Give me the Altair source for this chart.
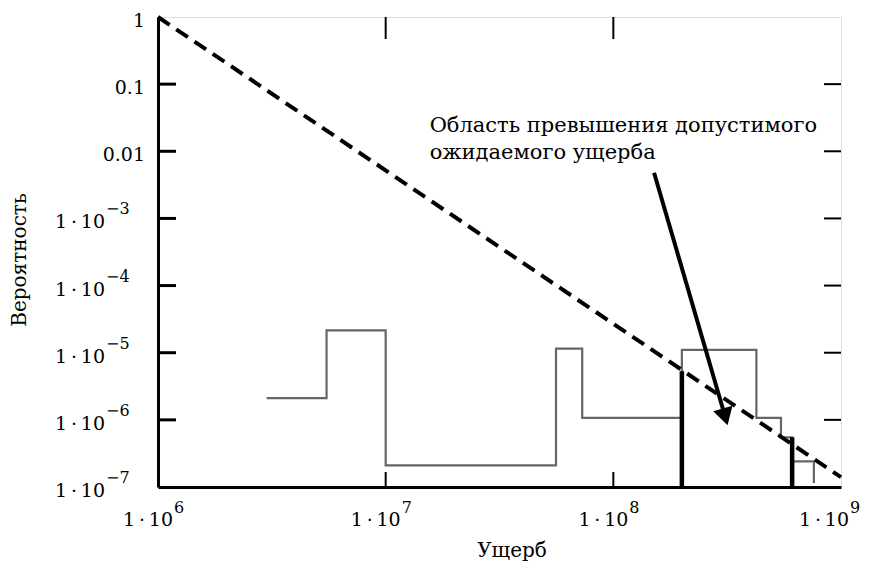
import altair as alt
import pandas as pd

# ---- data ----
dash_x = [1e6, 1e9]
dash_y = [1.0, 1.4e-7]

step_x = [3.0e6, 5.5e6, 1.0e7, 5.6e7, 7.3e7, 2.0e8, 4.25e8, 5.45e8, 6.1e8, 7.6e8]
step_y = [2.1e-6, 2.15e-5, 2.1e-7, 1.15e-5, 1.07e-6, 1.1e-5, 1.07e-6, 5.5e-7, 2.4e-7, 1.15e-7]

limit_x = [2.0e8, 6.1e8]
limit_top = [5.3e-6, 5.5e-7]
limit_bottom = [1e-7, 1e-7]

arrow_x = [1.51e8, 3.1e8]
arrow_y = [4.8e-3, 1.11e-6]

note_x = [1.56e7]
note_y = [0.0194]
note_text = ["Область превышения допустимого\nожидаемого ущерба"]

x_ticks = [1e6, 1e7, 1e8, 1e9]
x_exp = ["6", "7", "8", "9"]
x_inner_ticks = [1e7, 1e8]

y_plain = [1.0, 0.1, 0.01]
y_plain_text = ["1", "0.1", "0.01"]
y_pow = [1e-3, 1e-4, 1e-5, 1e-6, 1e-7]
y_pow_exp = ["\u22123", "\u22124", "\u22125", "\u22126", "\u22127"]
y_inner_ticks = [0.1, 0.01, 1e-3, 1e-4, 1e-5, 1e-6]

base_text = "1\u2009·\u200910"
x_title = "Ущерб"
y_title = "Вероятность"

W, H = 683, 470
FONT = "DejaVu Serif"

xs = alt.Scale(type="log", domain=[1e6, 1e9], nice=False)
ys = alt.Scale(type="log", domain=[1e-7, 1], nice=False)
ax = alt.Axis(title=None, labels=False, ticks=False, grid=False,
              domainWidth=3, domainColor="black")


def X(f="x"):
    return alt.X(f"{f}:Q", scale=xs, axis=ax)


def Y(f="y"):
    return alt.Y(f"{f}:Q", scale=ys, axis=ax)


dash_df = pd.DataFrame({"x": dash_x, "y": dash_y})
step_df = pd.DataFrame({"x": step_x, "y": step_y})
lim_df = pd.DataFrame({"x": limit_x, "y": limit_bottom, "y2": limit_top})
arrow_df = pd.DataFrame({"x": arrow_x, "y": arrow_y})
head_df = pd.DataFrame({"x": arrow_x[-1:], "y": arrow_y[-1:]})
note_df = pd.DataFrame({"x": note_x, "y": note_y, "t": note_text})
xt_df = pd.DataFrame({"x": x_ticks, "e": x_exp, "b": [base_text] * len(x_ticks)})
xin_df = pd.DataFrame({"x": x_inner_ticks})
yp_df = pd.DataFrame({"y": y_plain, "t": y_plain_text})
yw_df = pd.DataFrame({"y": y_pow, "e": y_pow_exp, "b": [base_text] * len(y_pow)})
yin_df = pd.DataFrame({"y": y_inner_ticks})

step = alt.Chart(step_df).mark_line(
    interpolate="step-after", color="#666666", strokeWidth=2.2
).encode(x=X(), y=Y())

dash = alt.Chart(dash_df).mark_line(
    color="black", strokeWidth=4, strokeDash=[14, 8]
).encode(x=X(), y=Y())

limits = alt.Chart(lim_df).mark_rule(color="black", strokeWidth=4.5).encode(
    x=X(), y=Y(), y2="y2:Q"
)

arrow = alt.Chart(arrow_df).mark_line(color="black", strokeWidth=4).encode(
    x=X(), y=Y()
)
head = alt.Chart(head_df).mark_point(
    shape="triangle-up", angle=164, size=400, filled=True, color="black", opacity=1
).encode(x=X(), y=Y())

note = alt.Chart(note_df).mark_text(
    align="left", baseline="alphabetic", font=FONT, fontSize=21,
    lineBreak="\n", lineHeight=27, color="black"
).encode(x=X(), y=Y(), text="t:N")

# inward ticks
left_ticks = alt.Chart(yin_df).mark_rule(color="black", strokeWidth=3).encode(
    y=Y(), x=alt.value(0), x2=alt.value(18)
)
right_ticks = alt.Chart(yin_df).mark_rule(color="black", strokeWidth=2).encode(
    y=Y(), x=alt.value(W - 17), x2=alt.value(W)
)
bottom_ticks = alt.Chart(xin_df).mark_rule(color="black", strokeWidth=2).encode(
    x=X(), y=alt.value(H - 15), y2=alt.value(H)
)
top_ticks = alt.Chart(xin_df).mark_rule(color="black", strokeWidth=2).encode(
    x=X(), y=alt.value(0), y2=alt.value(22)
)

# tick labels (the last x label is nudged left so it stays inside the page)
x_first = alt.datum.x < 5e8
x_last = alt.datum.x >= 5e8
x_base = alt.Chart(xt_df).transform_filter(x_first).mark_text(
    align="right", baseline="middle", dx=15, font=FONT, fontSize=19, color="black"
).encode(x=X(), y=alt.value(H + 33), text="b:N")
x_sup = alt.Chart(xt_df).transform_filter(x_first).mark_text(
    align="left", baseline="middle", dx=16, font=FONT, fontSize=16, color="black"
).encode(x=X(), y=alt.value(H + 21), text="e:N")
x_base_last = alt.Chart(xt_df).transform_filter(x_last).mark_text(
    align="right", baseline="middle", dx=8, font=FONT, fontSize=19, color="black"
).encode(x=X(), y=alt.value(H + 33), text="b:N")
x_sup_last = alt.Chart(xt_df).transform_filter(x_last).mark_text(
    align="left", baseline="middle", dx=9, font=FONT, fontSize=16, color="black"
).encode(x=X(), y=alt.value(H + 21), text="e:N")

y_plain_lbl = alt.Chart(yp_df).mark_text(
    align="right", baseline="middle", dy=4, font=FONT, fontSize=19, color="black"
).encode(y=Y(), x=alt.value(-13), text="t:N")
y_base = alt.Chart(yw_df).mark_text(
    align="right", baseline="middle", dy=4, font=FONT, fontSize=19, color="black"
).encode(y=Y(), x=alt.value(-53), text="b:N")
y_sup = alt.Chart(yw_df).mark_text(
    align="left", baseline="middle", dy=-9, font=FONT, fontSize=16, color="black"
).encode(y=Y(), x=alt.value(-52), text="e:N")

# axis titles
xt = alt.Chart(pd.DataFrame({"t": [x_title]})).mark_text(
    align="center", baseline="alphabetic", font=FONT, fontSize=20, color="black"
).encode(x=alt.value(354), y=alt.value(540), text="t:N")
yt = alt.Chart(pd.DataFrame({"t": [y_title]})).mark_text(
    align="center", baseline="middle", angle=270, font=FONT, fontSize=20, color="black"
).encode(x=alt.value(-138), y=alt.value(243), text="t:N")

chart = alt.layer(
    step, dash, limits, arrow, head, note,
    left_ticks, right_ticks, bottom_ticks, top_ticks,
    x_base, x_sup, x_base_last, x_sup_last,
    y_plain_lbl, y_base, y_sup, xt, yt
).properties(
    width=W, height=H,
    autosize=alt.AutoSizeParams(type="none"),
    padding={"left": 150, "top": 9, "right": 20, "bottom": 75},
).configure_view(
    stroke="black", strokeWidth=2
).configure(background="white")

chart.save("out.html", embed_options={"renderer": "svg", "actions": False})
